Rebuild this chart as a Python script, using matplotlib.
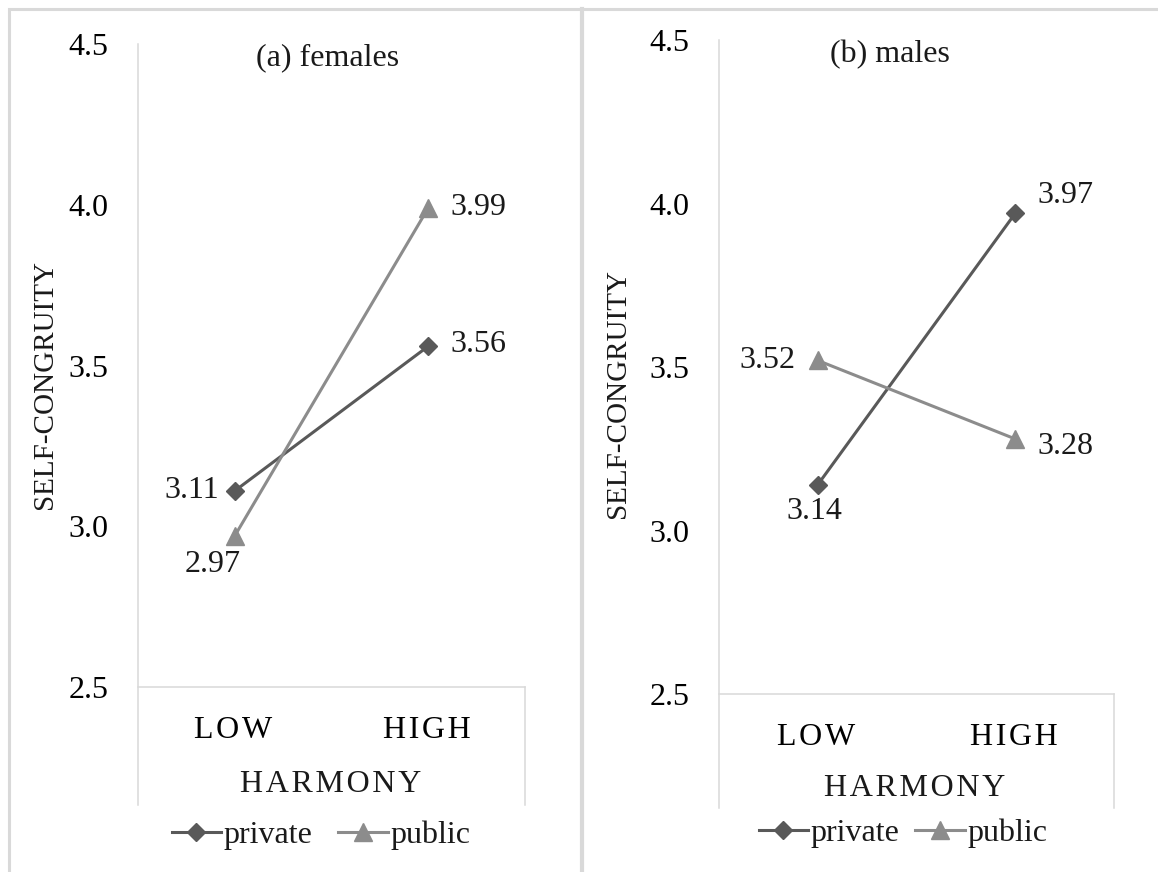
import matplotlib
matplotlib.use("Agg")
import matplotlib.pyplot as plt
from matplotlib.lines import Line2D
from matplotlib.patches import Rectangle

# data
levels = ["LOW", "HIGH"]
y_ticks = [2.5, 3.0, 3.5, 4.0, 4.5]
female_private = [3.11, 3.56]
female_public = [2.97, 3.99]
male_private = [3.14, 3.97]
male_public = [3.52, 3.28]

W, H = 1158, 872
FS = 23
GRID = "#d9d9d9"
C_PRIV = "#595959"
C_PUB = "#8c8c8c"

plt.rcParams["font.family"] = ["Liberation Serif", "DejaVu Serif"]
plt.rcParams["text.color"] = "#1a1a1a"


def fx(x):
    return x / W


def fy(y):
    return 1 - y / H


def spaced(s):
    return "\u200a".join(s) + "\u200a"


def hline(fig, x0, x1, y, **kw):
    fig.add_artist(Line2D([fx(x0), fx(x1)], [fy(y), fy(y)], transform=fig.transFigure, **kw))


def vline(fig, x, y0, y1, **kw):
    fig.add_artist(Line2D([fx(x), fx(x)], [fy(y0), fy(y1)], transform=fig.transFigure, **kw))


fig = plt.figure(figsize=(W / 100, H / 100), dpi=100)

# outer frame and divider
fig.add_artist(Rectangle((fx(9), fy(874)), fx(1160) - fx(9), fy(9) - fy(874),
                         transform=fig.transFigure, fill=False, ec=GRID, lw=2.2))
vline(fig, 582, 9, 874, color=GRID, lw=3)

panels = [
    dict(box=(138, 44, 525, 687), bottom=805, title="(a) females", title_xy=(328, 58),
         ylab_xy=(45, 384), harm_y=784, leg=(321, 835), colsp=0.8,
         priv=female_private, pub=female_public,
         priv_off=[((-16, 0), "right"), ((22, 2), "left")],
         pub_off=[((-22, -29), "center"), ((22, 0), "left")]),
    dict(box=(719, 40, 1114, 694), bottom=808, title="(b) males", title_xy=(890, 55),
         ylab_xy=(618, 393), harm_y=788, leg=(903, 833), colsp=0.5,
         priv=male_private, pub=male_public,
         priv_off=[((-3, -27), "center"), ((22, 18), "left")],
         pub_off=[((-22, 0), "right"), ((22, -8), "left")]),
]

for p in panels:
    x0, y0, x1, y1 = p["box"]
    ax = fig.add_axes([fx(x0), fy(y1), fx(x1) - fx(x0), fy(y0) - fy(y1)])
    ax.set_xlim(-0.5, 1.5)
    ax.set_ylim(2.5, 4.5)
    for s in ax.spines.values():
        s.set_visible(False)
    ax.set_yticks(y_ticks)
    ax.set_yticklabels([f"{v:.1f}" for v in y_ticks], fontsize=FS)
    ax.set_xticks(range(len(levels)))
    ax.set_xticklabels([spaced(l) for l in levels], fontsize=FS)
    ax.tick_params(axis="y", length=0, pad=21)
    ax.tick_params(axis="x", length=0, pad=21)

    xs = list(range(len(levels)))
    ax.plot(xs, p["priv"], color=C_PRIV, lw=2.2, marker="D", ms=9.5, label="private", zorder=3)
    ax.plot(xs, p["pub"], color=C_PUB, lw=2.2, marker="^", ms=12.5, label="public", zorder=3)

    for series, offs in ((p["priv"], p["priv_off"]), (p["pub"], p["pub_off"])):
        for x, v, (off, ha) in zip(xs, series, offs):
            ax.annotate(f"{v:.2f}", (x, v), xytext=off, textcoords="offset pixels",
                        ha=ha, va="center", fontsize=FS)

    # axis frame lines (value axis, category axis and category box)
    vline(fig, x0, y0, p["bottom"], color=GRID, lw=1.1)
    hline(fig, x0, x1, y1, color=GRID, lw=1.1)
    vline(fig, x1, y1, p["bottom"], color=GRID, lw=1.1)

    fig.text(fx(p["title_xy"][0]), fy(p["title_xy"][1]), p["title"], fontsize=FS,
             ha="center", va="center")
    fig.text(fx(p["ylab_xy"][0]), fy(p["ylab_xy"][1]), "SELF-CONGRUITY", fontsize=21,
             rotation=90, ha="center", va="center")
    fig.text(fx((x0 + x1) / 2), fy(p["harm_y"]), spaced("HARMONY"), fontsize=FS,
             ha="center", va="center")

    handles = [Line2D([], [], color=C_PRIV, lw=2.2, marker="D", ms=9.5),
               Line2D([], [], color=C_PUB, lw=2.2, marker="^", ms=12.5)]
    fig.legend(handles, ["private", "public"], loc="center",
               bbox_to_anchor=(fx(p["leg"][0]), fy(p["leg"][1])), ncol=2, frameon=False,
               fontsize=FS, handlelength=1.55, handletextpad=0.08,
               columnspacing=p["colsp"], borderpad=0, borderaxespad=0)

fig.savefig("out.png", dpi=100)
